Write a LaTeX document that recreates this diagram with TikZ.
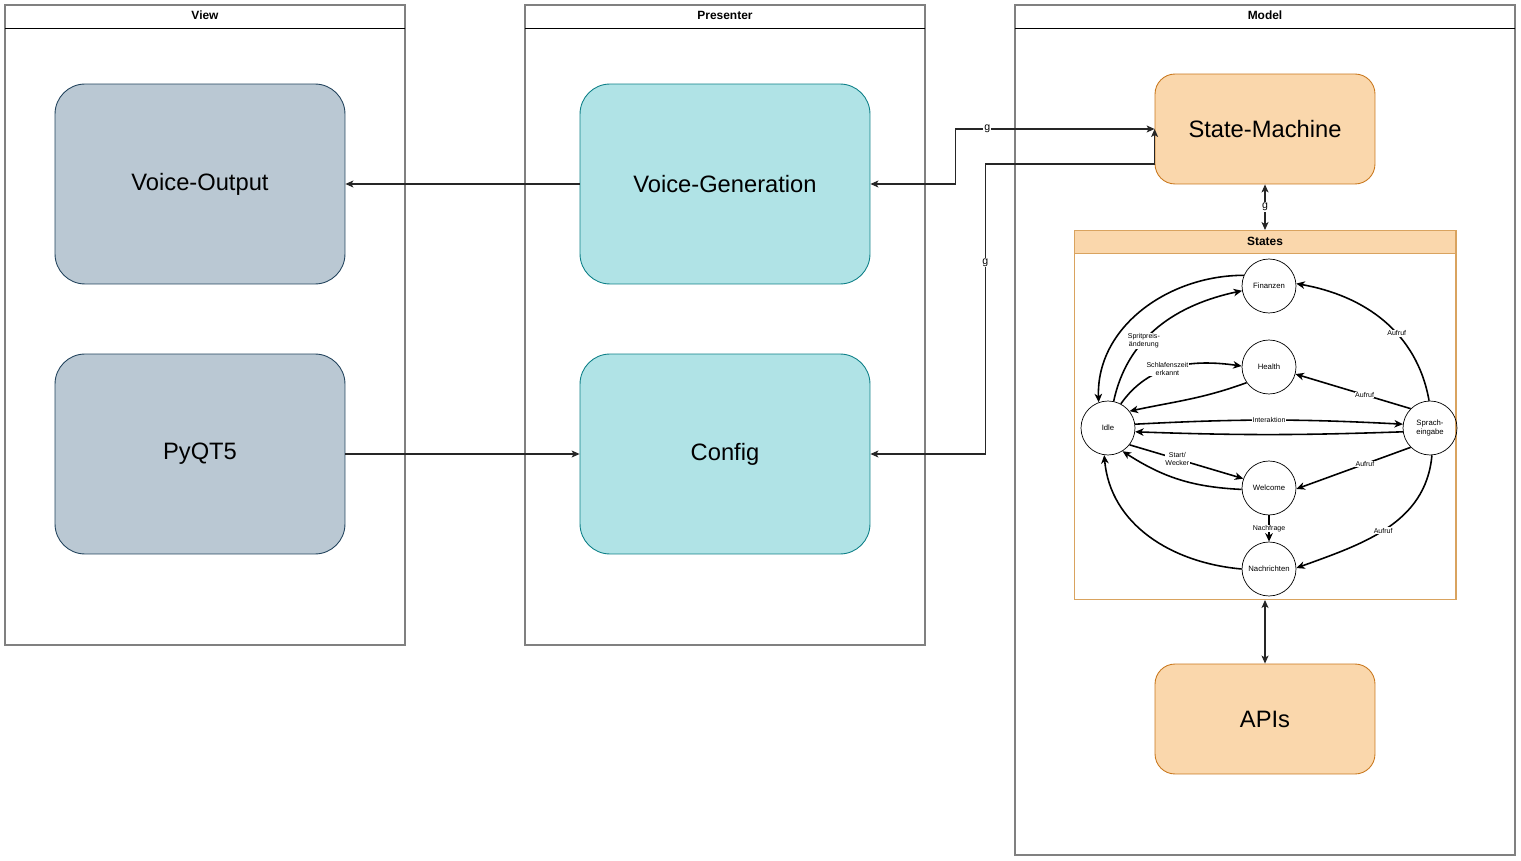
\documentclass[tikz,border=0pt]{standalone}
\usepackage{fontspec}
\setmainfont{Liberation Sans}
\usetikzlibrary{arrows.meta, positioning, calc}

\definecolor{viewfill}{HTML}{BAC8D3}
\definecolor{viewline}{HTML}{23445D}
\definecolor{presfill}{HTML}{B0E3E6}
\definecolor{presline}{HTML}{0E8088}
\definecolor{modfill}{HTML}{FAD7AC}
\definecolor{modline}{HTML}{C9781E}
\definecolor{stline}{HTML}{D9A35F}

\begin{document}
\begin{tikzpicture}[x=0.02cm, y=-0.02cm,
    lane/.style={draw=gray, line width=0.8pt},
    lanetitle/.style={font=\fontsize{6.8}{8}\selectfont\bfseries},
    block/.style={draw, rounded corners=6mm, minimum width=5.8cm, minimum height=4cm, line width=0.5pt, font=\fontsize{13.5}{16}\selectfont},
    viewbox/.style={block, fill=viewfill, draw=viewline},
    presbox/.style={block, fill=presfill, draw=presline},
    modbox/.style={block, fill=modfill, draw=modline, minimum width=4.4cm, minimum height=2.2cm, rounded corners=4mm},
    link/.style={draw=black!85, line width=0.6pt, >={Stealth[length=1.6mm, width=1.4mm, inset=0.4mm]}},
    glabel/.style={fill=white, inner sep=0.5pt, font=\fontsize{6}{7}\selectfont},
    st/.style={circle, draw, line width=0.4pt, minimum size=1.08cm, inner sep=0pt, align=center, font=\fontsize{4.4}{5}\selectfont},
    tr/.style={-{Stealth[length=1.7mm, width=1.5mm, inset=0.5mm]}, line width=0.9pt},
    elabel/.style={fill=white, inner sep=0.3pt, align=center, font=\fontsize{4}{4.6}\selectfont}
]
\useasboundingbox (0,0) rectangle (1521,861);

% Lanes
\foreach \xa/\xb/\yb/\lane in {5/405/645/View, 525/925/645/Presenter, 1015/1515/855/Model} {
    \draw[lane] (\xa,5) rectangle (\xb,\yb);
    \draw[line width=0.5pt] (\xa,28) -- (\xb,28);
    \node[lanetitle] at ({(\xa+\xb)/2},15) {\lane};
}

% View and Presenter
\node[viewbox] (vout) at (200,184) {Voice-Output};
\node[viewbox] (pyqt) at (200,454) {PyQT5};
\node[presbox] (vgen) at (725,184) {Voice-Generation};
\node[presbox] (config) at (725,454) {Config};

% Model
\node[modbox] (sm) at (1265,129) {State-Machine};
\node[modbox] (apis) at (1265,719) {APIs};

% States container
\node[draw=stline, fill=white, line width=0.6pt, minimum width=7.64cm, minimum height=7.4cm, inner sep=0pt, outer sep=0pt] (states) at (1265,415) {};
\draw[draw=stline, fill=modfill, line width=0.6pt] (states.north west) rectangle ($(states.north east)+(0,23)$);
\node[lanetitle] at ($(states.north)+(0,11)$) {States};

% States graph
\node[st] (fin) at (1269,286) {Finanzen};
\node[st] (health) at (1269,367) {Health};
\node[st] (idle) at (1108,428) {Idle};
\node[st] (spr) at (1430,428) {Sprach-\\eingabe};
\node[st] (wel) at (1269,488) {Welcome};
\node[st] (nach) at (1269,569) {Nachrichten};

\draw[tr] (fin.157) to[out=180, in=92] (idle.110);
\draw[tr] (idle.78) to[out=78, in=192] node[elabel, pos=0.38] {Spritpreis-\\änderung} (fin.190);
\draw[tr] (idle.62) to[out=55, in=172] node[elabel, pos=0.45] {Schlafenszeit\\erkannt} (health.178);
\draw[tr] (health.215) to[out=200, in=12] (idle.38);
\draw[tr] (spr.92) to[out=100, in=-10] node[elabel, pos=0.4] {Aufruf} (fin.5);
\draw[tr] (spr.135) -- node[elabel, pos=0.4] {Aufruf} (health.-15);
\draw[tr] (idle.8) to[bend left=3] node[elabel, pos=0.5] {Interaktion} (spr.172);
\draw[tr] (spr.188) to[bend left=2] (idle.-8);
\draw[tr] (idle.-38) -- node[elabel, pos=0.42] {Start/\\Wecker} (wel.160);
\draw[tr] (wel.183) to[bend left=15] (idle.-58);
\draw[tr] (spr.-135) -- node[elabel, pos=0.4] {Aufruf} (wel.-2);
\draw[tr] (wel) -- node[elabel] {Nachfrage} (nach);
\draw[tr] (spr.-86) to[out=-95, in=20] node[elabel, pos=0.52] {Aufruf} (nach.2);
\draw[tr] (nach.180) to[out=175, in=-85] (idle.-98);

% Connections
\draw[link, ->] (vgen) -- (vout);
\draw[link, ->] (pyqt) -- (config);
\draw[link, <->] (vgen.east) -- ++(85,0) |- node[glabel, pos=0.58] {g} (sm.west);
\draw[link, <->] (config.east) -- ++(115,0) |- node[glabel, pos=0.33] {g} ($(sm.west)+(0,35)$) -- (sm.west);
\draw[link, <->] (sm.south) -- node[glabel] {g} (states.north);
\draw[link, <->] (states.south) -- (apis.north);

\end{tikzpicture}
\end{document}
